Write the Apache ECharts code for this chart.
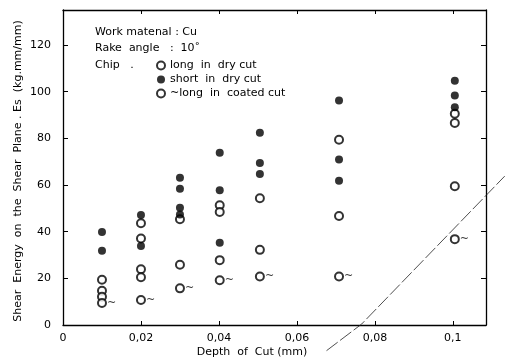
<!DOCTYPE html>
<html><head><meta charset="utf-8">
<script src="https://cdn.jsdelivr.net/npm/echarts@6/dist/echarts.min.js"></script>
<style>html,body{margin:0;padding:0;background:#fff}#c{width:505px;height:364px}</style>
</head><body><div id="c"></div>
<script>
// Depth of cut (mm), shear energy Es (kg.mm/mm)
const longDry = [[0.01,19.4],[0.01,14.7],[0.01,12.1],[0.02,43.6],[0.02,37.1],[0.02,23.9],[0.02,20.5],[0.03,45.3],[0.03,25.8],[0.0402,51.3],[0.0402,48.4],[0.0402,27.8],[0.0505,54.3],[0.0505,32.2],[0.0708,79.4],[0.0708,46.7],[0.1005,90.5],[0.1005,86.6],[0.1005,59.5]];
const shortDry = [[0.01,39.9],[0.01,31.8],[0.02,47.1],[0.02,33.9],[0.03,63.1],[0.03,58.4],[0.03,50.3],[0.03,47.4],[0.0402,73.8],[0.0402,57.8],[0.0402,35.3],[0.0505,82.4],[0.0505,69.4],[0.0505,64.7],[0.0708,96.2],[0.0708,70.9],[0.0708,61.8],[0.1005,104.7],[0.1005,98.4],[0.1005,93.3]];
const longCoated = [[0.01,9.4],[0.02,10.7],[0.03,15.7],[0.0402,19.2],[0.0505,20.8],[0.0708,20.8],[0.1005,36.8]];
const creaseLine = [[0.0676,-11.0],[0.0766,0.4],[0.1133,63.8]];
const seriesNames = ['long  in  dry cut','short  in  dry cut','long  in  coated cut'];
const xTicks = [0,0.02,0.04,0.06,0.08,0.1];
const xTickLabels = ['0','0,02','0,04','0,06','0,08','0,1'];
const yTicks = [0,20,40,60,80,100,120];
const yTickLabels = ['0','20','40','60','80','100','120'];
const noteLines = ['Work matenal : Cu','Rake  angle   :  10˚','Chip   .'];
const xName = 'Depth  of  Cut (mm)';
const yName = 'Shear  Energy  on  the  Shear  Plane . Es  (kg.mm/mm)';

const FONT = 'DejaVu Sans';
const fmt = (ticks, labels) => v => { const i = ticks.findIndex(t => Math.abs(t - v) < 1e-9); return i < 0 ? '' : labels[i]; };
const chart = echarts.init(document.getElementById('c'), null, {renderer:'canvas'});
const axisLineStyle = {show:true,onZero:false,lineStyle:{color:'#000',width:1.3}};
chart.setOption({
  backgroundColor:'#fff',
  animation:false,
  grid:{left:63,right:19,top:10,bottom:39},
  xAxis:[
    {type:'value',min:0,max:0.1085,interval:0.02,position:'bottom',axisLine:axisLineStyle,splitLine:{show:false},
      axisTick:{show:true,inside:true,length:4,lineStyle:{color:'#000'}},
      axisLabel:{color:'#000',fontFamily:FONT,fontSize:11,margin:8,showMaxLabel:false,formatter:fmt(xTicks,xTickLabels)}},
    {type:'value',min:0,max:0.1085,interval:0.02,position:'top',axisLine:axisLineStyle,splitLine:{show:false},
      axisTick:{show:true,inside:true,length:4,lineStyle:{color:'#000'}},axisLabel:{show:false}}
  ],
  yAxis:[
    {type:'value',min:0,max:135,interval:20,position:'left',axisLine:axisLineStyle,splitLine:{show:false},
      axisTick:{show:true,inside:true,length:5,lineStyle:{color:'#000'}},
      axisLabel:{color:'#000',fontFamily:FONT,fontSize:11,margin:12,showMaxLabel:false,formatter:fmt(yTicks,yTickLabels)}},
    {type:'value',min:0,max:135,interval:20,position:'right',axisLine:axisLineStyle,splitLine:{show:false},
      axisTick:{show:true,inside:true,length:5,lineStyle:{color:'#000'}},axisLabel:{show:false}}
  ],
  legend:{
    data:seriesNames, orient:'vertical', left:151, top:55, itemWidth:8, itemHeight:8, itemGap:3,
    textStyle:{color:'#000',fontFamily:FONT,fontSize:11},
    formatter: n => n === seriesNames[2] ? '~' + n : n
  },
  graphic:[
    {type:'text',left:95,top:27,style:{text:noteLines[0],fill:'#000',font:'11px '+FONT}},
    {type:'text',left:95,top:43,style:{text:noteLines[1],fill:'#000',font:'11px '+FONT}},
    {type:'text',left:95,top:60,style:{text:noteLines[2],fill:'#000',font:'11px '+FONT}},
    {type:'text',x:252,y:352,style:{text:xName,fill:'#000',font:'11px '+FONT,textAlign:'center',textVerticalAlign:'middle'}},
    {type:'text',x:18,y:171,rotation:Math.PI/2,style:{text:yName,fill:'#000',font:'11px '+FONT,textAlign:'center',textVerticalAlign:'middle'}}
  ],
  series:[
    {name:seriesNames[0],type:'scatter',data:longDry,symbol:'emptyCircle',symbolSize:8,
      itemStyle:{color:'#000',borderColor:'#000',borderWidth:1.3}},
    {name:seriesNames[1],type:'scatter',data:shortDry,symbol:'circle',symbolSize:8,
      itemStyle:{color:'#000'}},
    {name:seriesNames[2],type:'scatter',data:longCoated,symbol:'emptyCircle',symbolSize:8,
      itemStyle:{color:'#000',borderColor:'#000',borderWidth:1.3},
      label:{show:true,position:'right',distance:0,formatter:'~',color:'#000',fontFamily:FONT,fontSize:11}},
    {name:'crease',type:'custom',data:[0],clip:false,silent:true,
      renderItem:(params, api) => ({
        type:'polyline',
        shape:{points:creaseLine.map(p => api.coord(p))},
        style:{stroke:'#222',lineWidth:0.8,fill:null,lineDash:[14,3]}
      })}
  ]
});
</script></body></html>
